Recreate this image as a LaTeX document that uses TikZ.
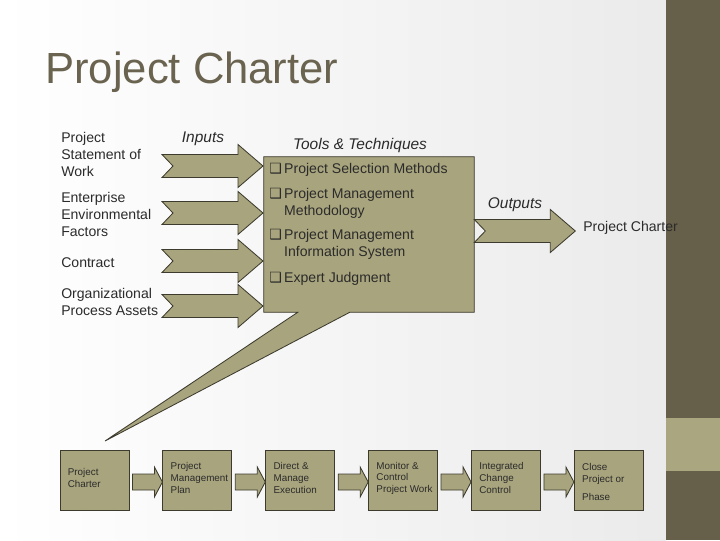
\documentclass[tikz,border=0pt]{standalone}
\usepackage{fontspec}
\setmainfont{Liberation Sans}
\newfontfamily\symfont{DejaVu Sans}
\usetikzlibrary{positioning,calc}
\definecolor{cFill}{HTML}{A8A47D}
\definecolor{cEdge}{HTML}{3C3B2E}
\definecolor{cBand}{HTML}{665F49}
\definecolor{cBandLt}{HTML}{A9A680}
\definecolor{cTitle}{HTML}{6A6350}
\definecolor{cText}{HTML}{2B2B2B}
\newcommand{\chk}{{\symfont ❑}}
\tikzset{
  blk/.style={draw=cEdge, fill=cFill, line width=0.6pt, line join=miter},
  inlbl/.style={anchor=west, align=left, inner sep=0pt, text=cText,
    font=\fontsize{10}{12.1}\selectfont},
  head/.style={inner sep=0pt, text=cText, font=\fontsize{11}{13}\selectfont\itshape},
  procbox/.style={blk, minimum width=1.725cm, minimum height=1.5cm, inner sep=0pt},
  proclbl/.style={anchor=west, align=left, inner sep=0pt, text=cText,
    font=\fontsize{7}{8.5}\selectfont, xshift=0.2cm, yshift=0.04cm},
  notched/.pic={\draw[blk] (0,-11.5) -- (76,-11.5) -- (76,-21.5) -- (101,0) -- (76,21.5)
    -- (76,11.5) -- (0,11.5) -- (11,0) -- cycle;},
  flowarrow/.pic={\draw[blk] (0,-8) -- (22,-8) -- (22,-15) -- (30,0) -- (22,15)
    -- (22,8) -- (0,8) -- cycle;},
}

\begin{document}
\begin{tikzpicture}[x=0.025cm, y=-0.025cm]
    % --- backdrop ---
    \useasboundingbox (0,0) rectangle (720,540);
    \shade[left color=white, right color=black!8] (0,0) rectangle (666,540);
    \fill[cBand] (666,0) rectangle (720,540);
    \fill[cBandLt] (666,418) rectangle (720,471);
    \node[anchor=base west, inner sep=0pt, text=cTitle, font=\fontsize{31}{36}\selectfont]
      (title) at (45,83) {Project Charter};
    % --- tools & techniques callout ---
    \node[minimum width=5.25cm, minimum height=3.875cm, inner sep=0pt] (ttbox) at (369,234.5) {};
    \coordinate (wedge) at (105,441);
    \draw[blk] (ttbox.north west) -- (ttbox.north east) -- (ttbox.south east)
      -- ([xshift=2.15cm]ttbox.south west) -- (wedge) -- ([xshift=0.85cm]ttbox.south west)
      -- (ttbox.south west) -- cycle;
    \node[anchor=north west, inner sep=0pt, text=cText, font=\fontsize{10}{12.1}\selectfont]
      (tools) at (269,161) {\begin{tabular}{@{}l@{\,}l@{}}
        \chk & Project Selection Methods\\[5.7pt]
        \chk & Project Management\\
             & Methodology\\[5pt]
        \chk & Project Management\\
             & Information System\\[6.4pt]
        \chk & Expert Judgment
      \end{tabular}};
    % --- headings ---
    \node[head] (hin) at (203,139) {Inputs};
    \node[head] (htt) at (360,145) {Tools \& Techniques};
    \node[head] (hout) at (515,205) {Outputs};
    % --- inputs ---
    \node[inlbl] (in1) at (61,154) {Project\\Statement of\\Work};
    \node[inlbl] (in2) at (61,214) {Enterprise\\Environmental\\Factors};
    \node[inlbl] (in3) at (61,263) {Contract};
    \node[inlbl] (in4) at (61,301.5) {Organizational\\Process Assets};
    \foreach \y in {166,213,261,306}
      \pic at (162,\y) {notched};
    % --- output ---
    \pic at ($(ttbox.east)+(0,-3.5)$) {notched};
    \node[inlbl] (out) at (583,228) {Project Charter};
    % --- process row ---
    \node[procbox, label={[proclbl]west:{Project\\Charter}}] (b1) at (94.5,480) {};
    \node[procbox, right=0.825cm of b1, label={[proclbl]west:{Project\\Management\\Plan}}] (b2) {};
    \node[procbox, right=0.825cm of b2, label={[proclbl]west:{Direct \&\\Manage\\Execution}}] (b3) {};
    \node[procbox, right=0.825cm of b3, label={[proclbl]west:{Monitor \&\\Control\\Project Work}}] (b4) {};
    \node[procbox, right=0.825cm of b4, label={[proclbl]west:{Integrated\\Change\\Control}}] (b5) {};
    \node[procbox, right=0.825cm of b5, label={[proclbl, yshift=-0.08cm]west:{Close\\Project or\\[4.3pt]Phase}}] (b6) {};
    \foreach \a in {1,...,5}
      \pic at ($(b\a.east)+(3,2)$) {flowarrow};
  \end{tikzpicture}
\end{document}
